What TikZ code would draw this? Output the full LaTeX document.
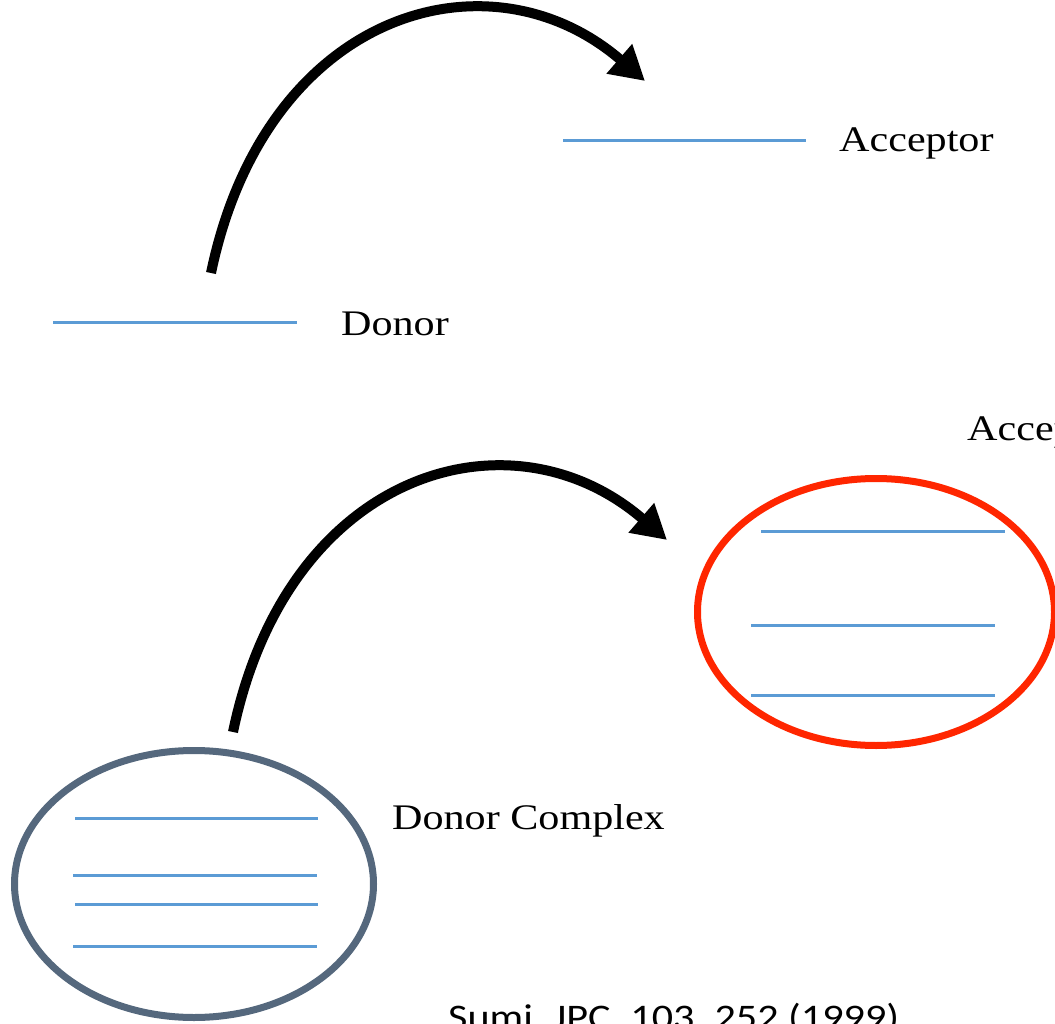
\documentclass[tikz,border=0pt]{standalone}
\usepackage{fontspec}
\setmainfont{Liberation Serif}
\newfontfamily\refsans{Carlito}
\usetikzlibrary{arrows.meta}

\definecolor{levelblue}{RGB}{91,155,213}
\definecolor{donorgray}{RGB}{85,104,125}
\definecolor{acceptred}{RGB}{255,38,0}

% labels are set slightly wide
\newcommand\widetext[1]{\scalebox{1.17}[1]{#1}}

\tikzset{
  level/.style={draw=levelblue, line width=3pt},
  label text/.style={anchor=base west, inner sep=0pt, font=\fontsize{36}{40}\selectfont},
  transfer/.style={draw=black, line width=10pt, -{Triangle[length=34pt,width=37pt]}},
  complex/.style={line width=7pt},
}

\begin{document}
\begin{tikzpicture}[x=1pt,y=-1pt]
\useasboundingbox (0,0) rectangle (1055,1024);
\clip (0,0) rectangle (1055,1024);

% ---- single donor / acceptor levels ----
\draw[level] (563,141) -- (806,141);
\draw[level] (53,323) -- (297,323);
\node[label text] (acceptor) at (839,152) {\widetext{Acceptor}};
\node[label text] (donor) at (341,335) {\widetext{Donor}};

\coordinate (d1) at (211,273);
\coordinate (a1) at (645,81);
\draw[transfer] (d1) .. controls (266,9) and (490,-53) .. (a1);

% ---- acceptor complex ----
\draw[acceptred, complex] (876,612) ellipse [x radius=178.5, y radius=133.5];
\draw[level] (761,531) -- (1005,531);
\draw[level] (751,625) -- (995,625);
\draw[level] (751,695) -- (995,695);
\node[label text] (acccomplex) at (967,440) {\widetext{Acceptor}};

% ---- donor complex ----
\draw[donorgray, complex] (194,884) ellipse [x radius=179.5, y radius=133.5];
\draw[level] (75,818) -- (318,818);
\draw[level] (73,875) -- (317,875);
\draw[level] (75,904) -- (318,904);
\draw[level] (73,946) -- (317,946);
\node[label text] (doncomplex) at (392,829) {\widetext{Donor Complex}};

\coordinate (d2) at (233,732);
\coordinate (a2) at (667,540);
\draw[transfer] (d2) .. controls (288,468) and (512,406) .. (a2);

% ---- reference ----
\node[anchor=base west, inner sep=0pt, font=\refsans\fontsize{36}{40}\selectfont] (cite) at (448,1029) {\widetext{Sumi, JPC, 103, 252 (1999)}};
\end{tikzpicture}
\end{document}
